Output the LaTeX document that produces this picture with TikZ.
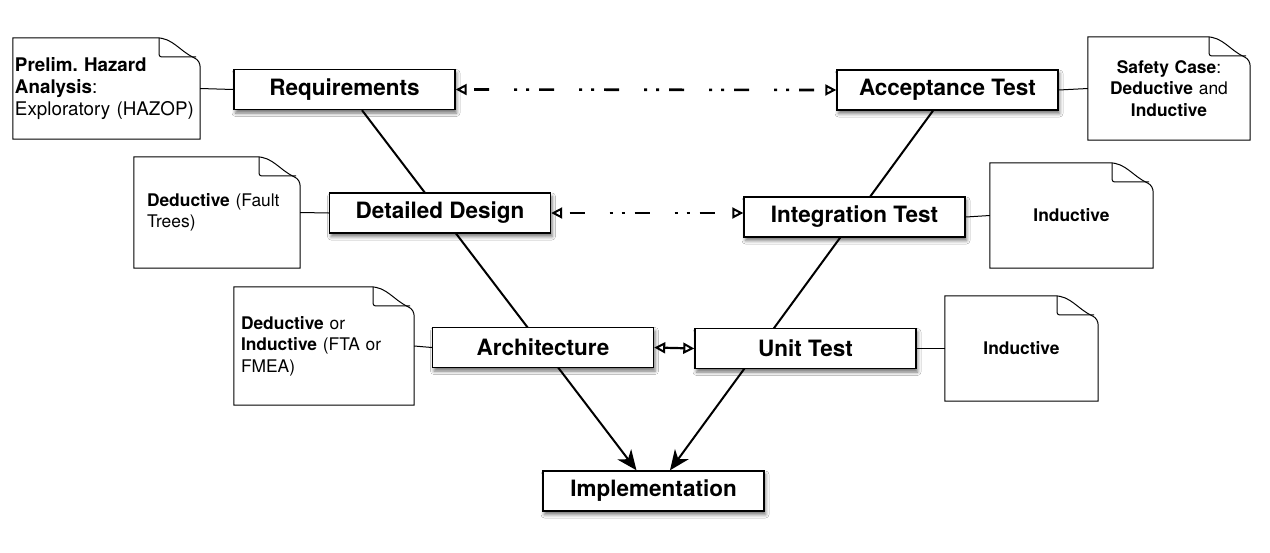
\documentclass[tikz,border=0pt]{standalone}
\usepackage{fontspec}
\setmainfont{TeX Gyre Heros}
\frenchspacing
\usetikzlibrary{arrows.meta,shadows.blur,backgrounds,calc}

% dog-eared outline around a note node
\newcommand\dogear[1]{%
  \draw[noteline] (#1.north west) -- ($(#1.north east)+(-44,0)$)
    to[out=0,in=155] ($(#1.north east)+(-6,20)$)
    to[out=-25,in=90] ($(#1.north east)+(0,30)$)
    -- (#1.south east) -- (#1.south west) -- cycle;
  \draw[noteline,rounded corners=2pt] ($(#1.north east)+(-41,0)$)
    -- ($(#1.north east)+(-41,19)$) -- ($(#1.north east)+(-4,19)$);}

\tikzset{
  stage/.style={draw, line width=1.4pt, fill=white, minimum width=221pt,
    minimum height=40pt, inner sep=0pt,
    font=\fontsize{22.5}{26}\selectfont\bfseries,
    blur shadow={shadow xshift=1.5pt, shadow yshift=-3.5pt,
      shadow blur radius=3.5pt, shadow opacity=55}},
  note/.style={inner ysep=0pt, font=\fontsize{17.4}{21.5}\selectfont},
  noteline/.style={line width=1pt},
  link/.style={line width=1pt},
  vline/.style={line width=2pt, -{Stealth[length=20pt,width=17pt,inset=6pt]}},
  trace/.style={line width=2.6pt,
    dash pattern=on 3pt off 9pt on 3pt off 10pt on 15pt off 25pt, dash phase=17pt,
    {Triangle[open,length=11pt,width=11pt,line width=2pt]}-{Triangle[open,length=11pt,width=11pt,line width=2pt]}},
  pair/.style={line width=2.2pt,
    {Triangle[open,length=11pt,width=11pt,line width=2pt]}-{Triangle[open,length=11pt,width=11pt,line width=2pt]}}
}

\begin{document}
\begin{tikzpicture}[x=1pt,y=-1pt]
\useasboundingbox (0,0) rectangle (1270,552);

% lifecycle stages
\node[stage] (req)  at (344.5,89.5) {Requirements};
\node[stage] (acc)  at (947.5,90)   {Acceptance Test};
\node[stage] (dd)   at (440,213)    {Detailed Design};
\node[stage] (it)   at (854.5,217)  {Integration Test};
\node[stage] (arch) at (543,347.5)  {Architecture};
\node[stage] (ut)   at (805.5,348.5){Unit Test};
\node[stage] (impl) at (653.5,491)  {Implementation};

% analysis notes
\node[note, inner xsep=2pt, text width=183pt, minimum height=101pt, align=left,
  font=\fontsize{18.8}{21.7}\selectfont] (n1) at (106.5,88.5)
  {\textbf{Prelim. Hazard}\\\textbf{Analysis}:\\Exploratory (HAZOP)};
\node[note, inner xsep=0pt, text width=162pt, minimum height=103pt, align=center] (n2)
  at (1169,88.5) {\textbf{Safety Case}:\\\textbf{Deductive} and\\\textbf{Inductive}};
\node[note, inner xsep=13pt, text width=140pt, minimum height=111pt, align=left] (n3)
  at (217,212.5) {\textbf{Deductive} (Fault\\Trees)};
\node[note, inner xsep=0pt, text width=163pt, minimum height=105pt, align=center] (n4)
  at (1071.5,215.5) {\textbf{Inductive}};
\node[note, inner xsep=7pt, text width=166pt, minimum height=118pt, align=left] (n5)
  at (324,346) {\textbf{Deductive} or\\\textbf{Inductive} (FTA or\\FMEA)};
\node[note, inner xsep=0pt, text width=153pt, minimum height=105pt, align=center] (n6)
  at (1021.5,348.5) {\textbf{Inductive}};

\dogear{n1}\dogear{n2}\dogear{n3}\dogear{n4}\dogear{n5}\dogear{n6}

% notes attached to their stages
\draw[link] (n1.east) -- (req.west);
\draw[link] (acc.east) -- (n2.west);
\draw[link] (n3.east) -- (dd.west);
\draw[link] (it.east) -- (n4.west);
\draw[link] (n5.east) -- (arch.west);
\draw[link] (ut.east) -- (n6.west);

% verification links between the two arms
\draw[trace] (req.east) -- (acc.west);
\draw[trace] (dd.east) -- (dd.east -| it.west);
\draw[pair] (arch.east) -- (ut.west);

% the two arms of the V, passing behind the stage boxes
\begin{pgfonlayer}{background}
  \fill[white] (0,0) rectangle (1270,552);
  \draw[vline] ([xshift=17.5pt]req.south) -- ([xshift=-17pt]impl.north);
  \draw[vline] ([xshift=-14.5pt]acc.south) -- ([xshift=16.5pt]impl.north);
\end{pgfonlayer}
\end{tikzpicture}
\end{document}
